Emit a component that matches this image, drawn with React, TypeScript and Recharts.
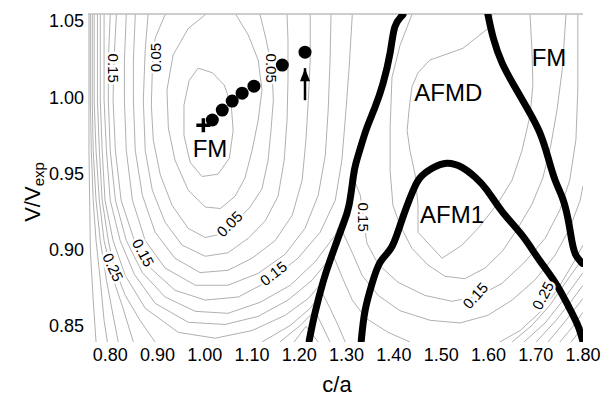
import React from "react";
import { ComposedChart, Line, Scatter, XAxis, YAxis, ReferenceLine } from "recharts";

const FONT = '"Liberation Sans", Arial, Helvetica, sans-serif';
const CONTOUR_COLOR = "#969696";
const INK = "#000";

const X_DOMAIN: [number, number] = [0.753, 1.8];
const Y_DOMAIN: [number, number] = [0.8395, 1.0545];
const X_TICKS = [0.8, 0.9, 1.0, 1.1, 1.2, 1.3, 1.4, 1.5, 1.6, 1.7, 1.8];
const Y_TICKS = [0.85, 0.9, 0.95, 1.0, 1.05];

// contour lines, [c/a, V/Vexp]; null = the line leaves the frame
type Pt = [number, number] | null;

const L1: Pt[] = [
  [0.986, 1.019], [1.016, 1.016], [1.041, 1.008], [1.056, 0.995], [1.06, 0.978],
  [1.052, 0.96], [1.028, 0.9495], [0.994, 0.948], [0.969, 0.9574], [0.956, 0.975],
  [0.956, 0.9948], [0.967, 1.011], [0.986, 1.019],
];
const L2: Pt[] = [
  [1.001, 1.054], [0.965, 1.045], [0.933, 1.0276], [0.92, 1.0046], [0.923, 0.9797],
  [0.937, 0.9587], [0.965, 0.939], [1.001, 0.928], [1.033, 0.927], [1.064, 0.935],
  [1.085, 0.947], [1.1, 0.965], [1.113, 0.985], [1.121, 1.0046], [1.113, 1.0243],
  [1.092, 1.0407], [1.066, 1.054],
];
const L3: Pt[] = [
  [0.916, 1.054], [0.895, 1.0387], [0.889, 1.0177], [0.887, 0.9948], [0.891, 0.972],
  [0.906, 0.949], [0.931, 0.929], [0.965, 0.914], [1.001, 0.908], [1.033, 0.9101],
  [1.064, 0.918], [1.096, 0.928], [1.121, 0.94], [1.134, 0.9587], [1.14, 0.978],
  [1.145, 0.998], [1.142, 1.019], [1.13, 1.0374], [1.117, 1.054],
];
const L4: Pt[] = [
  [0.88, 1.054], [0.874, 1.031], [0.87, 0.998], [0.874, 0.965], [0.889, 0.939],
  [0.916, 0.918], [0.952, 0.903], [1.001, 0.8957], [1.049, 0.898], [1.092, 0.9075],
  [1.128, 0.919], [1.155, 0.935], [1.168, 0.9587], [1.174, 0.985], [1.176, 1.011],
  [1.176, 1.0374], [1.174, 1.054],
];
const L5: Pt[] = [
  [0.853, 1.054], [0.849, 1.0243], [0.849, 0.998], [0.853, 0.965], [0.868, 0.9357],
  [0.895, 0.9114], [0.937, 0.8944], [0.99, 0.885], [1.049, 0.8865], [1.1, 0.8944],
  [1.149, 0.906], [1.185, 0.9226], [1.206, 0.9456], [1.214, 0.972], [1.219, 0.998],
  [1.223, 1.0243], [1.223, 1.054],
];
const L6: Pt[] = [
  [0.834, 1.054], [0.83, 1.0243], [0.83, 0.998], [0.834, 0.965], [0.847, 0.9324],
  [0.874, 0.906], [0.916, 0.888], [0.98, 0.8767], [1.049, 0.8767], [1.113, 0.8845],
  [1.17, 0.897], [1.212, 0.914], [1.24, 0.9357], [1.255, 0.962], [1.261, 0.9915],
  [1.265, 1.0243], [1.267, 1.054],
];
const L7: Pt[] = [
  [0.813, 1.054], [0.808, 1.0243], [0.806, 0.998], [0.811, 0.965], [0.823, 0.9324],
  [0.851, 0.906], [0.885, 0.888], [0.937, 0.8734], [1.001, 0.867], [1.071, 0.869],
  [1.138, 0.88], [1.197, 0.8944], [1.244, 0.9114], [1.276, 0.9324], [1.29, 0.9587],
  [1.297, 0.985], [1.305, 1.0177], [1.312, 1.054],
];
const L8: Pt[] = [
  [0.8, 1.054], [0.796, 1.0243], [0.796, 0.998], [0.8, 0.965], [0.811, 0.9324],
  [0.834, 0.906], [0.868, 0.885], [0.916, 0.869], [0.98, 0.8596], [1.049, 0.8583],
  [1.117, 0.8655], [1.181, 0.8767], [1.233, 0.892], [1.276, 0.9095], [1.301, 0.929],
  [1.316, 0.9456], [1.329, 0.9357], [1.335, 0.9213], [1.343, 0.9042], [1.367, 0.8904],
  [1.409, 0.8786], [1.466, 0.87], [1.523, 0.8662], [1.578, 0.8695], [1.629, 0.878],
  [1.677, 0.892], [1.72, 0.9075], [1.751, 0.926], [1.772, 0.9456], [1.785, 0.972],
  [1.789, 1.0046], [1.789, 1.054],
];
const L9: Pt[] = [
  [0.787, 1.054], [0.787, 0.998], [0.792, 0.965], [0.8, 0.9324], [0.821, 0.906],
  [0.851, 0.8839], [0.895, 0.8649], [0.965, 0.8524], [1.043, 0.851], [1.113, 0.8563],
  [1.176, 0.867], [1.227, 0.88], [1.265, 0.8944], [1.292, 0.9114], [1.312, 0.898],
  [1.333, 0.883], [1.367, 0.87], [1.413, 0.86], [1.477, 0.8537], [1.54, 0.852],
  [1.599, 0.857], [1.65, 0.867], [1.698, 0.88], [1.741, 0.8964], [1.772, 0.914],
  [1.794, 0.9324], [1.8, 0.942],
];
const L10: Pt[] = [
  [0.779, 1.054], [0.779, 0.998], [0.783, 0.965], [0.789, 0.9324], [0.806, 0.906],
  [0.832, 0.883], [0.874, 0.8616], [0.944, 0.8458], [1.022, 0.842], [1.1, 0.847],
  [1.17, 0.857], [1.219, 0.8681], [1.255, 0.881], [1.274, 0.8944], [1.292, 0.881],
  [1.312, 0.867], [1.341, 0.855], [1.388, 0.8458], [1.434, 0.8395], null,
  [1.624, 0.8395], [1.667, 0.847], [1.709, 0.859], [1.745, 0.8734], [1.777, 0.89],
  [1.8, 0.903],
];
const L11: Pt[] = [
  [0.773, 1.054], [0.773, 0.998], [0.777, 0.965], [0.783, 0.9324], [0.796, 0.906],
  [0.808, 0.8885], [0.832, 0.87], [0.863, 0.8537], [0.895, 0.8395], null,
  [1.121, 0.8395], [1.181, 0.8504], [1.223, 0.8616], [1.248, 0.872], [1.265, 0.8616],
  [1.282, 0.8504], [1.297, 0.8395], null,
  [1.65, 0.8395], [1.692, 0.8504], [1.73, 0.8636], [1.762, 0.878], [1.8, 0.8944],
];
const L12: Pt[] = [
  [0.766, 1.054], [0.766, 0.998], [0.77, 0.965], [0.777, 0.9324], [0.787, 0.906],
  [0.804, 0.883], [0.825, 0.8636], [0.849, 0.8395], null,
  [1.159, 0.8395], [1.202, 0.8504], [1.233, 0.86], [1.248, 0.8504], [1.265, 0.8395], null,
  [1.675, 0.8395], [1.72, 0.852], [1.758, 0.867], [1.8, 0.885],
];
const L13: Pt[] = [
  [0.762, 1.054], [0.762, 0.998], [0.764, 0.965], [0.77, 0.9324], [0.779, 0.906],
  [0.792, 0.88], [0.806, 0.857], [0.817, 0.8395], null,
  [1.189, 0.8395], [1.214, 0.8498], [1.24, 0.8395], null,
  [1.701, 0.8395], [1.743, 0.8537], [1.777, 0.867], [1.8, 0.8767],
];
const L14: Pt[] = [
  [0.758, 1.054], [0.758, 0.998], [0.76, 0.965], [0.764, 0.9324], [0.77, 0.906],
  [0.779, 0.88], [0.787, 0.8537], [0.794, 0.8395], null,
  [1.726, 0.8395], [1.764, 0.8537], [1.8, 0.8681],
];
const L15: Pt[] = [
  [0.755, 1.054], [0.755, 0.965], [0.758, 0.8996], [0.764, 0.867], [0.77, 0.8395], null,
  [1.751, 0.8395], [1.777, 0.849], [1.8, 0.859], null,
  [1.775, 0.8395], [1.8, 0.8497],
];
const A1: Pt[] = [
  [1.608, 1.054], [1.599, 1.045], [1.546, 1.032], [1.476, 1.0243], [1.451, 1.016],
  [1.438, 1.0066], [1.432, 0.9915], [1.428, 0.978], [1.434, 0.965], [1.445, 0.949],
  [1.451, 0.929], [1.451, 0.9114], [1.502, 0.8944], [1.544, 0.903], [1.582, 0.9154],
  [1.62, 0.9305], [1.65, 0.9456], [1.671, 0.965], [1.688, 0.988], [1.694, 1.008],
  [1.692, 1.031], [1.688, 1.054],
];
const A2: Pt[] = [
  [1.438, 1.054], [1.413, 1.034], [1.396, 1.013], [1.392, 0.98], [1.392, 0.952],
  [1.398, 0.929], [1.413, 0.916], [1.438, 0.901], [1.472, 0.89], [1.508, 0.8826],
  [1.55, 0.881], [1.593, 0.888], [1.631, 0.8996], [1.662, 0.914], [1.692, 0.9298],
  [1.715, 0.947], [1.732, 0.9685], [1.745, 0.9915], [1.756, 1.0177], [1.764, 1.054],
];
const CONTOURS = [L1, L2, L3, L4, L5, L6, L7, L8, L9, L10, L11, L12, L13, L14, L15, A1, A2];

// phase boundaries
const BOUNDARY_FM_AFMD: Pt[] = [
  [1.419, 1.054], [1.402, 1.046], [1.392, 1.029], [1.377, 1.009], [1.36, 0.9934],
  [1.343, 0.98], [1.331, 0.9685], [1.32, 0.957], [1.314, 0.9475], [1.305, 0.929],
  [1.292, 0.916], [1.278, 0.9042], [1.265, 0.893], [1.25, 0.8786], [1.233, 0.8583],
  [1.221, 0.8406],
];
const BOUNDARY_AFMD_FM: Pt[] = [
  [1.599, 1.054], [1.61, 1.039], [1.629, 1.0223], [1.656, 1.0066], [1.684, 0.9915],
  [1.709, 0.9764], [1.726, 0.9606], [1.741, 0.9456], [1.756, 0.9344], [1.768, 0.9206],
  [1.777, 0.9049], [1.785, 0.8964], [1.798, 0.8911],
];
const BOUNDARY_AFM1: Pt[] = [
  [1.331, 0.8405], [1.339, 0.86], [1.354, 0.878], [1.371, 0.8918], [1.394, 0.901],
  [1.411, 0.914], [1.428, 0.929], [1.441, 0.939], [1.455, 0.947], [1.481, 0.9534],
  [1.512, 0.9567], [1.544, 0.954], [1.572, 0.9475], [1.597, 0.939], [1.629, 0.925],
  [1.671, 0.9095], [1.705, 0.8944], [1.741, 0.8786], [1.768, 0.8636], [1.789, 0.8504],
  [1.8, 0.8398],
];
const BOUNDARIES = [BOUNDARY_FM_AFMD, BOUNDARY_AFMD_FM, BOUNDARY_AFM1];

// equilibrium path and markers
const PATH_CA = [1.016, 1.037, 1.058, 1.079, 1.104, 1.164, 1.212];
const PATH_V = [0.985, 0.9915, 0.9974, 1.0026, 1.0072, 1.021, 1.0295];
const MINIMUM: [number, number] = [0.997, 0.9816];
const ARROW_CA = 1.212;
const ARROW_TAIL = 0.998;
const ARROW_TIP = 1.019;

const CONTOUR_LABEL_TEXT = ["0.15", "0.05", "0.05", "0.05", "0.15", "0.25", "0.15", "0.15", "0.15", "0.25"];
const CONTOUR_LABEL_CA = [0.806, 0.895, 1.142, 1.052, 0.87, 0.806, 1.145, 1.335, 1.572, 1.715];
const CONTOUR_LABEL_V = [1.019, 1.026, 1.019, 0.917, 0.898, 0.8885, 0.8845, 0.9213, 0.87, 0.87];
const CONTOUR_LABEL_ANGLE = [90, -90, 90, -45, 62, 65, -38, 90, -48, -62];

const PHASE_TEXT = ["FM", "AFMD", "FM", "AFM1"];
const PHASE_CA = [1.011, 1.515, 1.728, 1.523];
const PHASE_V = [0.9665, 1.003, 1.026, 0.923];

function segments(pts: Pt[]) {
  const out: { x: number; y: number }[][] = [[]];
  pts.forEach((p) => {
    if (p === null) out.push([]);
    else out[out.length - 1].push({ x: p[0], y: p[1] });
  });
  return out.filter((s) => s.length > 1);
}

const contourSegments = CONTOURS.flatMap(segments);
const boundarySegments = BOUNDARIES.flatMap(segments);
const pathData = PATH_CA.map((x, i) => ({ x, y: PATH_V[i] }));
const contourLabels = CONTOUR_LABEL_TEXT.map((text, i) => ({
  text,
  x: CONTOUR_LABEL_CA[i],
  y: CONTOUR_LABEL_V[i],
  angle: CONTOUR_LABEL_ANGLE[i],
}));
const phaseLabels = PHASE_TEXT.map((text, i) => ({ text, x: PHASE_CA[i], y: PHASE_V[i] }));

const fmt = (v: number) => v.toFixed(2);

export default function App() {
  return (
    <div style={{ position: "absolute", left: 0, top: 0, width: 603, height: 399, background: "#fff", fontFamily: FONT }}>
      <ComposedChart width={603} height={399} margin={{ top: 14, right: 20, bottom: 27, left: 0 }}>
        <XAxis
          type="number"
          dataKey="x"
          domain={X_DOMAIN}
          ticks={X_TICKS}
          allowDataOverflow
          tickFormatter={fmt}
          axisLine={false}
          tickLine={false}
          tickSize={0}
          tickMargin={6}
          height={30}
          tick={{ fontSize: 18, fill: INK, fontFamily: FONT }}
        />
        <YAxis
          type="number"
          dataKey="y"
          domain={Y_DOMAIN}
          ticks={Y_TICKS}
          allowDataOverflow
          tickFormatter={fmt}
          axisLine={false}
          tickLine={false}
          tickSize={0}
          tickMargin={4}
          width={88}
          tick={{ fontSize: 18, fill: INK, fontFamily: FONT }}
        />
        <ReferenceLine y={Y_DOMAIN[1]} stroke="#9a9a9a" strokeWidth={1} />

        {contourSegments.map((seg, i) => (
          <Line
            key={`c${i}`}
            data={seg}
            dataKey="y"
            type="linear"
            stroke={CONTOUR_COLOR}
            strokeWidth={0.75}
            dot={false}
            activeDot={false}
            isAnimationActive={false}
          />
        ))}

        {contourLabels.map((l, i) => (
          <Scatter
            key={`cl${i}`}
            data={[{ x: l.x, y: l.y }]}
            isAnimationActive={false}
            shape={(p: any) => (
              <text
                x={p.cx}
                y={p.cy}
                transform={`rotate(${l.angle} ${p.cx} ${p.cy})`}
                textAnchor="middle"
                dominantBaseline="central"
                fontSize={15}
                fontFamily={FONT}
                fill={INK}
                stroke="#fff"
                strokeWidth={5}
                paintOrder="stroke"
              >
                {l.text}
              </text>
            )}
          />
        ))}

        {boundarySegments.map((seg, i) => (
          <Line
            key={`b${i}`}
            data={seg}
            dataKey="y"
            type="natural"
            stroke={INK}
            strokeWidth={7}
            strokeLinecap="round"
            dot={false}
            activeDot={false}
            isAnimationActive={false}
          />
        ))}

        <Line
          data={[{ x: ARROW_CA, y: ARROW_TAIL }, { x: ARROW_CA, y: ARROW_TIP }]}
          dataKey="y"
          stroke={INK}
          strokeWidth={2.5}
          dot={false}
          activeDot={false}
          isAnimationActive={false}
        />
        <Scatter
          data={[{ x: ARROW_CA, y: ARROW_TIP }]}
          isAnimationActive={false}
          shape={(p: any) => (
            <path d={`M${p.cx},${p.cy} L${p.cx - 5},${p.cy + 13} L${p.cx + 5},${p.cy + 13} Z`} fill={INK} />
          )}
        />
        <Scatter
          data={pathData}
          isAnimationActive={false}
          shape={(p: any) => <circle cx={p.cx} cy={p.cy} r={6.5} fill={INK} />}
        />
        <Scatter
          data={[{ x: MINIMUM[0], y: MINIMUM[1] }]}
          isAnimationActive={false}
          shape={(p: any) => (
            <path
              d={`M${p.cx - 7},${p.cy} H${p.cx + 7} M${p.cx},${p.cy - 7} V${p.cy + 7}`}
              stroke={INK}
              strokeWidth={3.5}
            />
          )}
        />

        {phaseLabels.map((l, i) => (
          <Scatter
            key={`pl${i}`}
            data={[{ x: l.x, y: l.y }]}
            isAnimationActive={false}
            shape={(p: any) => (
              <text
                x={p.cx}
                y={p.cy}
                textAnchor="middle"
                dominantBaseline="central"
                fontSize={24}
                fontFamily={FONT}
                fill={INK}
              >
                {l.text}
              </text>
            )}
          />
        ))}
      </ComposedChart>

      <svg width={603} height={399} style={{ position: "absolute", left: 0, top: 0, pointerEvents: "none" }}>
        <text
          x={32}
          y={192}
          transform="rotate(-90 32 192)"
          textAnchor="middle"
          dominantBaseline="central"
          fontSize={22}
          fontFamily={FONT}
          fill={INK}
        >
          V/V
          <tspan fontSize={15} dy={6}>exp</tspan>
        </text>
        <text x={337} y={384} textAnchor="middle" dominantBaseline="central" fontSize={22} fontFamily={FONT} fill={INK}>
          c/a
        </text>
      </svg>
    </div>
  );
}
